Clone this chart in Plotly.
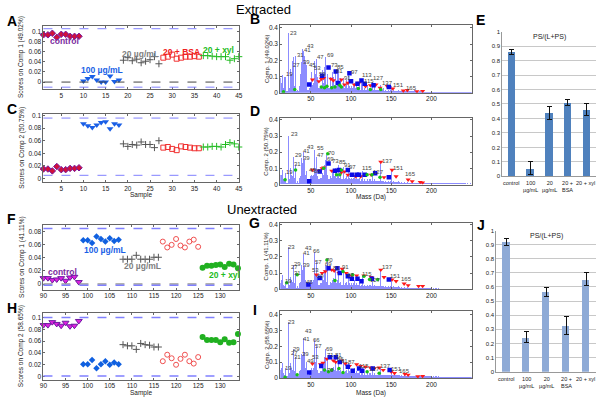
import plotly.graph_objects as go

W, H = 600, 400
FONT = "Liberation Sans, Arial, sans-serif"

# ---------------- data: score plots ----------------
groups = ["control", "100 µg/mL", "20 µg/mL", "20 + BSA", "20 + xyl"]
ext_samples = [list(range(1, 10)), list(range(10, 19)), list(range(19, 28)),
               list(range(28, 37)), list(range(37, 46))]
unx_samples = [list(range(90, 99)), list(range(99, 108)), list(range(108, 117)),
               list(range(117, 126)), list(range(126, 135))]

A_scores = [
    [0.093, 0.093, 0.096, 0.088, 0.094, 0.094, 0.090, 0.090, 0.090],
    [0.002, 0.007, 0.011, 0.004, 0.000, 0.000, 0.012, 0.001, 0.004],
    [0.043, 0.048, 0.042, 0.045, 0.038, 0.041, 0.044, 0.050, 0.036],
    [0.048, 0.050, 0.054, 0.046, 0.048, 0.050, 0.050, 0.051, 0.050],
    [0.052, 0.052, 0.051, 0.050, 0.050, 0.050, 0.043, 0.046, 0.050],
]
C_scores = [
    [0.015, 0.015, 0.012, 0.019, 0.014, 0.014, 0.016, 0.016, 0.017],
    [0.087, 0.084, 0.081, 0.085, 0.089, 0.090, 0.079, 0.087, 0.085],
    [0.055, 0.051, 0.054, 0.053, 0.058, 0.054, 0.054, 0.049, 0.060],
    [0.049, 0.050, 0.047, 0.045, 0.051, 0.050, 0.049, 0.048, 0.048],
    [0.050, 0.050, 0.051, 0.051, 0.050, 0.054, 0.057, 0.055, 0.050],
]
F_scores = [
    [0.009, 0.009, 0.006, 0.007, 0.009, 0.005, 0.010, 0.011, 0.003],
    [0.067, 0.067, 0.063, 0.073, 0.069, 0.065, 0.070, 0.066, 0.068],
    [0.038, 0.038, 0.038, 0.044, 0.038, 0.038, 0.038, 0.041, 0.041],
    [0.065, 0.056, 0.060, 0.069, 0.059, 0.056, 0.065, 0.068, 0.057],
    [0.025, 0.028, 0.028, 0.029, 0.030, 0.026, 0.031, 0.030, 0.024],
]
H_scores = [
    [0.087, 0.087, 0.092, 0.089, 0.086, 0.091, 0.085, 0.086, 0.094],
    [0.021, 0.021, 0.028, 0.014, 0.021, 0.026, 0.020, 0.024, 0.021],
    [0.054, 0.052, 0.052, 0.046, 0.056, 0.054, 0.053, 0.050, 0.050],
    [0.026, 0.037, 0.031, 0.020, 0.030, 0.037, 0.026, 0.022, 0.033],
    [0.067, 0.062, 0.062, 0.062, 0.058, 0.063, 0.057, 0.058, 0.072],
]
A_limits = [0.105, -0.010]
A_zero = [0.0]
C_limits = [0.096, 0.005]
F_limits = [0.085, -0.002]
F_zero = [0.0]
H_limits = [0.100, 0.001]

A_group_labels = [(5.7, 0.080), (14.2, 0.023), (22.9, 0.056), (32.2, 0.060), (40.4, 0.064)]
F_group_labels = [("control", 94.4, 0.019), ("100 µg/mL", 103.9, 0.052),
                  ("20 µg/mL", 112.4, 0.028), ("20 + xyl", 130.9, 0.0145)]

# ---------------- data: loading spectra ----------------
masses = list(range(12, 251))
base = [
    .03, .04, .06, .09, .03, .02, .02, .03, .01, .01,
    .01, .02, .03, .05, .06, .07, .05, .06, .04, .05,
    .02, .01, .02, .01, .04, .05, .07, .08, .06, .09,
    .08, .10, .06, .05, .02, .02, .03, .03, .05, .06,
    .05, .07, .06, .09, .07, .08, .04, .05, .03, .03,
    .04, .05, .04, .07, .06, .07, .05, .08, .05, .06,
    .03, .05, .03, .05, .04, .06, .05, .07, .05, .07,
    .04, .06, .04, .06, .04, .05, .03, .04, .03, .05,
    .03, .04, .03, .05, .03, .05, .04, .04, .03, .04,
    .03, .04, .03, .04, .03, .04, .03, .04, .03, .04,
    .02, .03, .03, .03, .02, .03, .02, .03, .02, .03,
    .02, .03, .02, .03, .02, .03, .02, .03, .02, .02,
    .02, .02, .02, .03, .02, .02, .02, .02, .02, .02,
    .015, .02, .015, .02, .015, .02, .015, .02, .015, .02,
    .015, .02, .015, .02, .015, .015, .015, .02, .01, .015,
    .01, .015, .01, .015, .01, .015, .01, .01, .01, .015,
    .01, .01, .01, .01, .01, .01, .01, .01, .01, .01,
    .008, .01, .008, .01, .008, .01, .008, .01, .008, .01,
    .008, .008, .008, .008, .008, .008, .008, .008, .008, .008,
    .006, .008, .006, .008, .006, .008, .006, .008, .006, .008,
    .006, .006, .006, .006, .006, .006, .006, .006, .006, .006,
    .005, .006, .005, .006, .005, .006, .005, .006, .005, .006,
    .005, .005, .005, .005, .005, .005, .005, .005, .005, .005,
    .004, .005, .004, .005, .004, .005, .004, .005, .004,
]

B_peaks = {13: .09, 15: .11, 18: .10, 19: .10, 23: .37, 25: .15, 26: .12, 27: .17, 28: .20,
           29: .22, 31: .23, 37: .12, 38: .15, 39: .19, 40: .27, 41: .26, 42: .23, 43: .29,
           44: .19, 45: .17, 51: .13, 53: .15, 55: .20, 56: .12, 57: .21, 58: .10, 59: .10,
           63: .11, 65: .14, 67: .16, 69: .22, 71: .12, 73: .16, 75: .10, 77: .13, 79: .10,
           81: .13, 83: .12, 85: .14, 87: .09, 89: .08, 91: .09, 95: .08, 97: .12, 99: .07,
           105: .06, 107: .06, 109: .06, 113: .08, 115: .06, 121: .05, 127: .07, 129: .05,
           137: .05, 141: .03, 151: .04, 155: .03, 165: .025, 179: .02}
D_peaks = {13: .06, 15: .07, 19: .07, 23: .30, 25: .10, 27: .14, 29: .17, 31: .12, 38: .10,
           39: .16, 40: .13, 41: .20, 42: .15, 43: .22, 45: .08, 53: .08, 55: .21, 56: .10,
           57: .17, 67: .12, 69: .15, 70: .18, 73: .13, 77: .09, 81: .10, 85: .12, 91: .11,
           97: .09, 105: .06, 115: .08, 127: .06, 137: .13, 151: .09, 165: .05}
G_peaks = {13: .04, 15: .04, 19: .04, 23: .26, 25: .08, 27: .13, 29: .15, 31: .10, 38: .09,
           39: .15, 40: .12, 41: .22, 42: .14, 43: .25, 45: .04, 53: .12, 55: .23, 56: .09,
           57: .17, 59: .08, 67: .12, 69: .15, 71: .17, 73: .10, 81: .12, 85: .10, 91: .13,
           97: .08, 105: .06, 115: .09, 127: .05, 137: .13, 151: .08, 165: .06}
I_peaks = {13: .05, 15: .06, 19: .06, 23: .35, 25: .09, 27: .15, 29: .18, 31: .13, 38: .10,
           39: .15, 40: .14, 41: .25, 42: .16, 43: .30, 45: .10, 53: .13, 55: .24, 56: .10,
           57: .20, 67: .13, 69: .18, 71: .14, 73: .10, 81: .14, 85: .11, 91: .11, 97: .09,
           105: .06, 115: .07, 127: .05, 137: .07, 151: .05, 165: .04}

B_red = [(52, .08), (60, .07), (63, .085), (66, .09), (75, .085), (78, .075), (88, .08), (92, .05),
         (96, .06), (104, .05), (110, .06), (118, .04), (124, .045), (131, .05), (136, .03),
         (145, .04), (152, .025), (165, .012), (170, .015), (182, .008), (189, .01)]
B_blue = [(48, .05), (64, .105), (72, .155), (81, .13), (84, .06), (98, .12), (100, .07),
          (108, .055), (113, .075), (117, .055), (128, .045), (147, .035)]
B_green = [(16, .005), (30, .02), (63, .035), (67, .03), (70, .04), (76, .03), (80, .035),
           (86, .045), (88, .035), (109, .025), (124, .02), (137, .02)]
D_red = [(52, .09), (60, .085), (64, .10), (66, .105), (76, .085), (80, .085), (88, .075),
         (92, .08), (96, .06), (106, .05), (112, .05), (118, .06), (125, .06), (137, .14),
         (141, .045), (151, .09), (156, .05), (171, .03), (176, .02), (186, .015), (189, .012)]
D_blue = [(48, .02), (61, .08), (72, .13), (80, .085), (85, .09), (96, .09), (101, .06),
          (107, .06), (110, .06), (117, .06), (130, .07), (147, .045)]
D_green = [(18, .03), (31, .09), (66, .10), (71, .19), (82, .06), (86, .06), (88, .09),
           (120, .06), (126, .06), (136, .045)]
G_red = [(57, .09), (64, .10), (68, .11), (76, .12), (79, .115), (85, .10), (89, .125),
         (94, .10), (101, .085), (107, .085), (116, .085), (125, .075), (137, .12), (141, .075),
         (151, .06), (156, .05), (166, .035), (171, .025), (184, .02), (189, .02)]
G_blue = [(47, .03), (61, .07), (72, .13), (83, .13), (86, .10), (96, .08), (101, .065),
          (108, .065), (113, .05), (126, .065), (147, .06)]
G_green = [(20, .04), (33, .09), (70, .18), (80, .055), (90, .11), (102, .09), (116, .08),
           (123, .06), (133, .06)]
I_red = [(52, .09), (62, .085), (65, .095), (70, .12), (78, .11), (81, .10), (88, .11),
         (93, .09), (98, .075), (107, .085), (112, .075), (118, .07), (124, .065), (129, .06),
         (135, .065), (140, .05), (150, .04), (154, .03), (167, .025), (171, .02), (183, .01),
         (189, .012)]
I_blue = [(48, .035), (63, .075), (74, .13), (81, .13), (86, .10), (96, .07), (102, .045),
          (110, .06), (114, .045), (127, .06), (148, .05)]
I_green = [(18, .005), (33, .02), (67, .05), (72, .04), (76, .05), (85, .06), (90, .035),
           (120, .04), (135, .03)]

B_labels = [("23", 29, .37), ("19", 24, .116), ("27", 32.6, .17), ("31", 36.7, .23),
            ("39", 45, .19), ("41", 46.2, .265), ("43", 49, .29), ("45", 52.4, .17),
            ("53", 58.5, .15), ("47", 62.6, .22), ("59", 64.7, .116), ("69", 75, .23),
            ("73", 80, .17), ("85", 87.3, .16), ("81", 86, .136), ("97", 103.8, .13),
            ("91", 95.6, .09), ("113", 119.9, .106), ("115", 122.3, .069), ("127", 134.7, .089),
            ("137", 145.8, .059), ("151", 159.4, .049), ("165", 175.4, .03)]
D_labels = [("23", 29.3, .315), ("19", 24, .08), ("29", 34.6, .18), ("31", 34, .13),
            ("39", 45, .167), ("41", 45, .21), ("43", 49, .234), ("45", 52.4, .087),
            ("53", 58.5, .083), ("55", 62.6, .228), ("47", 62.6, .18), ("70", 75.5, .198),
            ("69", 75, .16), ("73", 81, .147), ("85", 89, .137), ("91", 95.6, .123),
            ("97", 102.4, .107), ("115", 120, .1), ("127", 134, .08), ("137", 145.8, .147),
            ("151", 159.4, .1), ("165", 174, .067)]
G_labels = [("23", 26.4, .262), ("19", 22.3, .049), ("29", 33.3, .156), ("27", 30, .136),
            ("31", 33.5, .1), ("39", 44, .15), ("41", 45, .223), ("43", 47.3, .254),
            ("45", 48.5, .045), ("53", 56, .12), ("66", 57.4, .234), ("57", 59.3, .17),
            ("59", 62, .085), ("70", 72.6, .18), ("69", 72, .156), ("81", 82, .132),
            ("91", 92.8, .136), ("97", 99.7, .09), ("115", 119.9, .095), ("127", 131, .06),
            ("137", 145, .136), ("151", 155, .085), ("165", 169, .061)]
I_labels = [("23", 26.4, .352), ("19", 22.3, .0625), ("29", 32.6, .185), ("27", 30, .16),
            ("31", 33.3, .133), ("39", 43.2, .154), ("41", 44.8, .248), ("43", 47, .296),
            ("49", 49, .11), ("53", 56, .133), ("66", 57.4, .24), ("57", 59.3, .2),
            ("69", 72.6, .185), ("71", 73.9, .146), ("81", 84, .146), ("70", 74, .05),
            ("85", 87.3, .12), ("91", 91.4, .11), ("87", 100.5, .1), ("115", 116.2, .077),
            ("127", 129, .056), ("137", 142.6, .077), ("151", 157, .056), ("165", 166, .042)]

# ---------------- data: PS/(L+PS) bars ----------------
bar_cats = ["control", "100<br>µg/mL", "20<br>µg/mL", "20 +<br>BSA", "20 + xyl"]
E_values = [0.86, 0.055, 0.44, 0.51, 0.46]
E_errors = [0.015, 0.045, 0.045, 0.02, 0.04]
J_values = [0.92, 0.245, 0.565, 0.325, 0.655]
J_errors = [0.025, 0.04, 0.03, 0.065, 0.045]

# ---------------- figure ----------------
fig = go.Figure()
lay = {}


def axname(i, k):
    return f"{k}axis" if i == 1 else f"{k}axis{i}"


def ref(i, k):
    return k if i == 1 else f"{k}{i}"


def paper_text(text, px, py, size, angle=0, color="#222", bold=False):
    fig.add_annotation(x=px / W, y=1 - py / H, xref="paper", yref="paper",
                       text=f"<b>{text}</b>" if bold else text, showarrow=False,
                       xanchor="center", yanchor="middle", textangle=angle, borderpad=0,
                       font=dict(size=size, color=color, family=FONT))


def frame_axes(i, box, xr, yr, xt, yt, fs=6.5):
    x0, y0, x1, y1 = box
    common = dict(showline=True, mirror="ticks", linecolor="#666", linewidth=1,
                  ticks="inside", ticklen=2, tickcolor="#666", showgrid=False,
                  zeroline=False, tickfont=dict(size=fs, color="#222", family=FONT))
    lay[axname(i, "x")] = dict(common, domain=[x0 / W, x1 / W], range=xr, tickvals=xt,
                               anchor=ref(i, "y"))
    lay[axname(i, "y")] = dict(common, domain=[1 - y1 / H, 1 - y0 / H], range=yr, tickvals=yt,
                               anchor=ref(i, "x"))


def hline(i, y, color, dash, width=1):
    fig.add_shape(type="line", xref=f"{ref(i, 'x')} domain", yref=ref(i, "y"),
                  x0=0, x1=1, y0=y, y1=y, line=dict(color=color, dash=dash, width=width))


# score panels
ext_style = [
    dict(symbol="diamond", color="#d0103a", size=5, line=dict(color="#7a1aa0", width=1)),
    dict(symbol="triangle-down", color="#1a5fe6", size=6, line=dict(width=0)),
    dict(symbol="cross-thin", color="#555", size=5, line=dict(color="#555", width=1)),
    dict(symbol="square-open", color="#f03030", size=5, line=dict(color="#f03030", width=1)),
    dict(symbol="cross-thin", color="#22bb22", size=5, line=dict(color="#22bb22", width=1)),
]
unx_style = [
    dict(symbol="triangle-down", color="#e020e0", size=6, line=dict(color="#6a1aa0", width=1)),
    dict(symbol="diamond", color="#1060e0", size=5, line=dict(width=0)),
    dict(symbol="cross-thin", color="#555", size=5, line=dict(color="#555", width=1)),
    dict(symbol="circle-open", color="#f05050", size=5, line=dict(color="#f05050", width=1)),
    dict(symbol="circle", color="#20b020", size=6, line=dict(width=0)),
]
label_colors = ["#7a2aa0", "#1a5fe6", "#808080", "#f02020", "#22bb22"]

score_panels = [
    (1, (40, 23, 238, 87.3), [1, 45], [-0.0136, 0.111], A_scores, ext_samples, ext_style,
     list(range(5, 46, 5)), [0, 0.02, 0.04, 0.06, 0.08, 0.1], None, "Scores on Comp 1 (49.02%)"),
    (2, (40, 113, 238, 181.5), [1, 45], [-0.0053, 0.102], C_scores, ext_samples, ext_style,
     list(range(5, 46, 5)), [0, 0.02, 0.04, 0.06, 0.08, 0.1], ("Sample", 195), "Scores on Comp 2 (50.75%)"),
    (3, (40, 225, 238, 291), [90, 134.2], [-0.0086, 0.091], F_scores, unx_samples, unx_style,
     list(range(90, 131, 5)), [0, 0.02, 0.04, 0.06, 0.08], None, "Scores on Comp 1 (41.11%)"),
    (4, (40, 315, 238, 382.3), [90, 134.2], [-0.0050, 0.107], H_scores, unx_samples, unx_style,
     list(range(90, 131, 5)), [0, 0.02, 0.04, 0.06, 0.08, 0.1], ("Sample", 395.5), "Scores on Comp 2 (58.65%)"),
]
for i, box, xr, yr, scores, samp, style, xt, yt, xtitle, ytitle in score_panels:
    frame_axes(i, box, xr, yr, xt, yt)
    for g in range(5):
        fig.add_trace(go.Scatter(x=samp[g], y=scores[g], mode="markers", marker=style[g],
                                 xaxis=ref(i, "x"), yaxis=ref(i, "y"), showlegend=False,
                                 cliponaxis=False))
    paper_text(ytitle, 18, (box[1] + box[3]) / 2, 6.5, angle=-90)
    if xtitle:
        paper_text(xtitle[0], 139, xtitle[1], 6.5)

for y in A_limits:
    hline(1, y, "#8080ff", "dash")
for y in A_zero:
    hline(1, y, "#444", "dash")
for y in C_limits:
    hline(2, y, "#8080ff", "dash")
for y in F_zero:
    hline(3, y, "#999", "dash", 1.5)
for y in F_limits:
    hline(3, y, "#8080ff", "dash", 1.5)
for y in H_limits:
    hline(4, y, "#8080ff", "dash", 1.5)

for g, (sx, sy) in enumerate(A_group_labels):
    fig.add_annotation(x=sx, y=sy, xref="x", yref="y", text=f"<b>{groups[g]}</b>",
                       showarrow=False, font=dict(size=8.5, color=label_colors[g], family=FONT))
F_label_colors = ["#7a2aa0", "#1a5fe6", "#808080", "#22bb22"]
for (t, sx, sy), c in zip(F_group_labels, F_label_colors):
    fig.add_annotation(x=sx, y=sy, xref="x3", yref="y3", text=f"<b>{t}</b>",
                       showarrow=False, font=dict(size=8.5, color=c, family=FONT))

# spectra panels
spec_panels = [
    (5, (280, 22, 474, 91), [0, 0.42], B_peaks, B_red, B_blue, B_green, B_labels, None, "Comp. 1 (49.02%)"),
    (6, (280, 117, 474, 184.3), [0, 0.41], D_peaks, D_red, D_blue, D_green, D_labels, ("Mass (Da)", 196.5), "Comp. 2 (50.75%)"),
    (7, (280, 223, 474, 290.7), [0, 0.41], G_peaks, G_red, G_blue, G_green, G_labels, None, "Comp. 1 (41.11%)"),
    (8, (280, 313, 474, 380.7), [0, 0.42], I_peaks, I_red, I_blue, I_green, I_labels, ("Mass (Da)", 395.5), "Comp. 2 (58.65%)"),
]
for i, box, yr, peaks, red, blue, green, labels, xtitle, ytitle in spec_panels:
    frame_axes(i, box, [12, 250], yr, [50, 100, 150, 200], [0, 0.1, 0.2, 0.3, 0.4], fs=6.5)
    heights = [max(b, peaks.get(m, 0)) for m, b in zip(masses, base)]
    fig.add_trace(go.Bar(x=masses, y=heights, width=1.0,
                         marker=dict(color="rgba(95,95,255,0.72)", line=dict(width=0)),
                         xaxis=ref(i, "x"), yaxis=ref(i, "y"), showlegend=False))
    for pts, sym, col, sz in [(red, "triangle-down", "#ff1a1a", 4.5), (blue, "square", "#0a0ae6", 4.5),
                              (green, "circle", "#19c019", 3.5)]:
        fig.add_trace(go.Scatter(x=[p[0] for p in pts], y=[p[1] for p in pts], mode="markers",
                                 marker=dict(symbol=sym, color=col, size=sz, line=dict(width=0)),
                                 xaxis=ref(i, "x"), yaxis=ref(i, "y"), showlegend=False))
    for t, lx, ly in labels:
        fig.add_annotation(x=lx, y=ly, xref=ref(i, "x"), yref=ref(i, "y"), text=t, showarrow=False,
                           borderpad=0, font=dict(size=6, color="#444", family=FONT))
    paper_text(ytitle, 266, (box[1] + box[3]) / 2, 6, angle=-90)
    if xtitle:
        paper_text(xtitle[0], 372, xtitle[1], 6.5)

# bar panels
bar_panels = [
    (9, (505, 29, 600, 176), E_values, E_errors, "#4f81bd", 0.4),
    (10, (499, 231, 600, 374.3), J_values, J_errors, "#8eaad6", 0.36),
]
for i, box, vals, errs, col, bw in bar_panels:
    x0, y0, x1, y1 = box
    lay[axname(i, "x")] = dict(domain=[x0 / W, x1 / W], type="category", showline=True,
                               linecolor="#999", ticks="", anchor=ref(i, "y"),
                               showticklabels=False, range=[-0.5, 4.5])
    lay[axname(i, "y")] = dict(domain=[1 - y1 / H, 1 - y0 / H], range=[0, 1], dtick=0.1,
                               showline=True, linecolor="#999", showgrid=True, gridcolor="#c8c8c8",
                               ticks="", zeroline=False, anchor=ref(i, "x"),
                               tickfont=dict(size=6, color="#222", family=FONT))
    fig.add_trace(go.Bar(x=bar_cats, y=vals, width=bw, marker=dict(color=col, line=dict(width=0)),
                         error_y=dict(type="data", array=errs, color="#111", thickness=1, width=2.5),
                         xaxis=ref(i, "x"), yaxis=ref(i, "y"), showlegend=False))
    for k, c in enumerate(bar_cats):
        last = k == len(bar_cats) - 1
        fig.add_annotation(x=1.0 if last else c, xref=f"{ref(i, 'x')} domain" if last else ref(i, "x"),
                           y=1 - (y1 + 3) / H, yref="paper", text=c, showarrow=False,
                           xanchor="right" if last else "center", yanchor="top", borderpad=0,
                           font=dict(size=5.5, color="#222", family=FONT))
    fig.add_annotation(x=0.5, y=0.96, xref=f"{ref(i, 'x')} domain", yref=ref(i, "y"),
                       text="PS/(L+PS)", showarrow=False, font=dict(size=7, color="#222", family=FONT))

# panel letters and headings
letters = [("A", 8, 18), ("B", 254, 16), ("C", 8, 108), ("D", 254, 110), ("E", 483, 17),
           ("F", 8, 219), ("G", 254, 223), ("H", 8, 310), ("I", 254, 312), ("J", 483, 225)]
for t, px, py in letters:
    paper_text(t, px, py, 14, color="#000", bold=True)
for t, px, py in [("Extracted", 263, 6.5), ("Unextracted", 261, 210)]:
    paper_text(t, px, py, 13, color="#000")

fig.update_layout(width=W, height=H, margin=dict(l=0, r=0, t=0, b=0),
                  paper_bgcolor="white", plot_bgcolor="white", barmode="overlay", bargap=0,
                  font=dict(family=FONT, color="#222"), showlegend=False, **lay)

fig.write_html("out.html", config={"displayModeBar": False},
               post_script="document.body.style.margin='0';document.body.style.padding='0';")
